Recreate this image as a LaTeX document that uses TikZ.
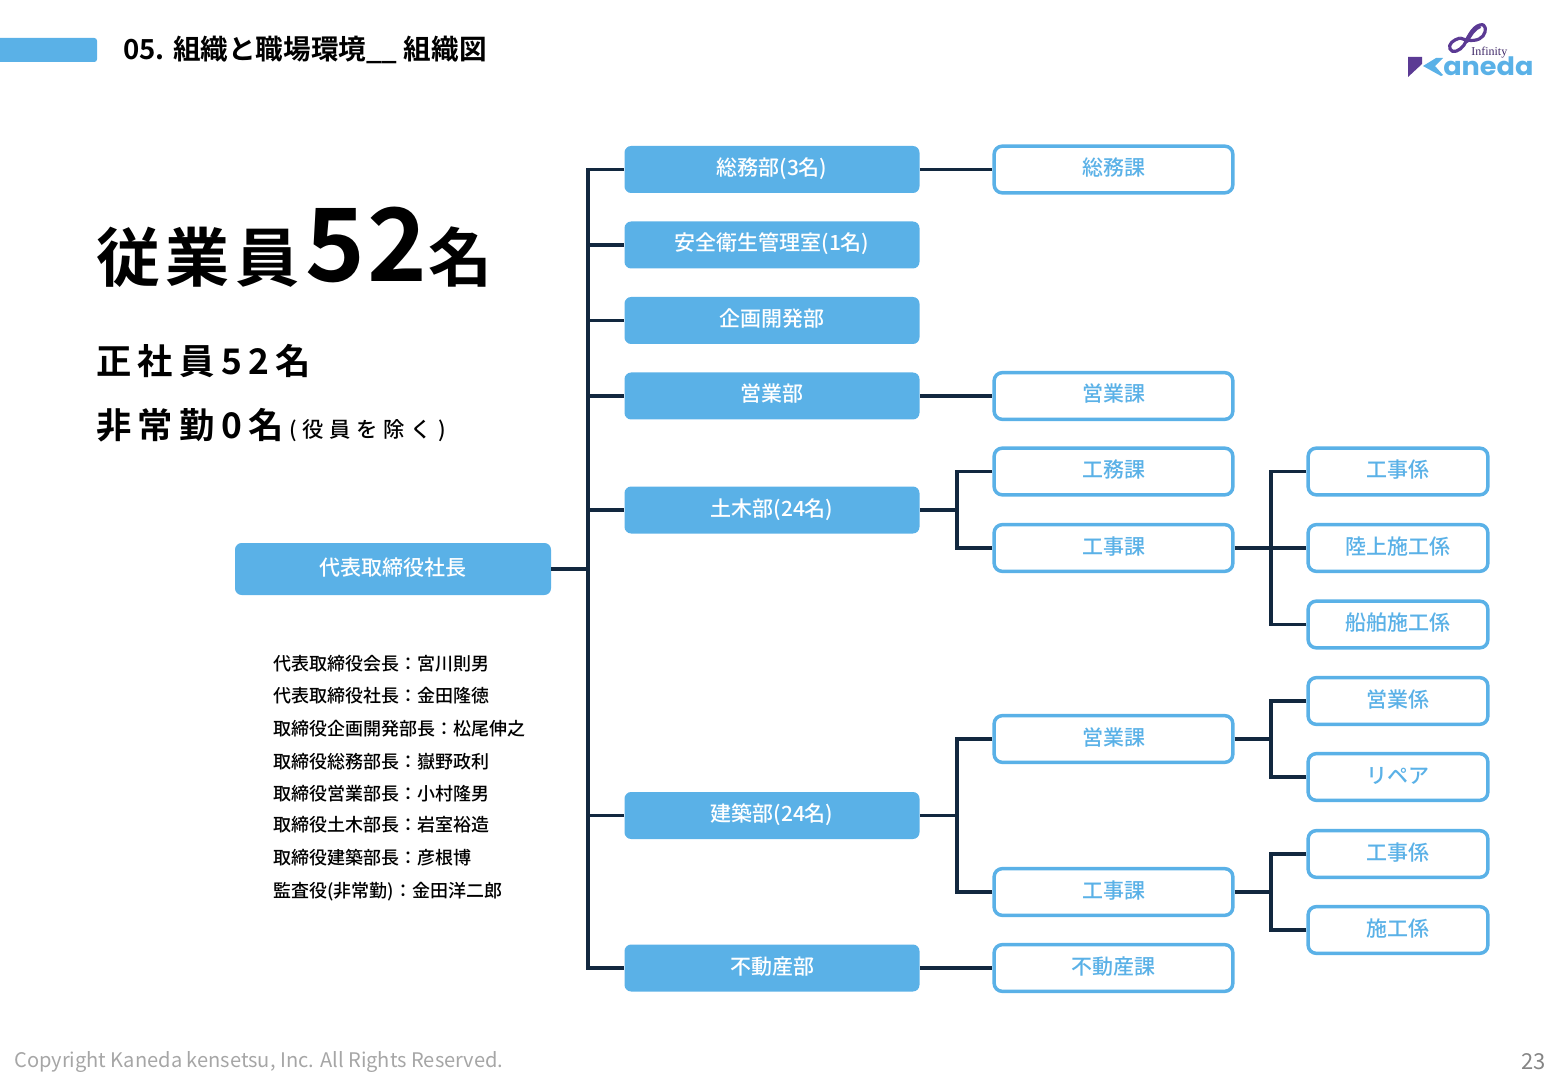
\documentclass[tikz,border=0pt]{standalone}
\usepackage{fontspec}
\setmainfont{Noto Sans CJK JP}[BoldFont={Noto Sans CJK JP Bold}]
\newfontfamily\medface{Noto Sans CJK JP Medium}
\newfontfamily\bigface{Noto Sans CJK JP Bold}[LetterSpace=9]
\newfontfamily\numface{Noto Sans CJK JP Bold}[LetterSpace=3]
\newfontfamily\wideface{Noto Sans CJK JP Bold}[LetterSpace=18]
\newfontfamily\noteface{Noto Sans CJK JP Medium}[LetterSpace=27]
\newfontfamily\logoface{Poppins}[BoldFont={Poppins Bold}]
\newfontfamily\serifface{Liberation Serif}
\definecolor{kanedablue}{HTML}{5AB1E7}
\definecolor{linenavy}{HTML}{12283F}
\definecolor{footgray}{HTML}{A6A6A6}
\definecolor{logopurple}{HTML}{5B3A94}
\newcommand{\pxfont}[1]{\fontsize{#1}{#1}\selectfont}

\begin{document}
\begin{tikzpicture}[x=0.75pt,y=-0.75pt,
      dept/.style={rectangle,fill=kanedablue,rounded corners=5pt,inner sep=0pt,
                  minimum width=221.25pt,minimum height=35.25pt,
                  text height=12.5pt,text depth=3.5pt,
                  text=white,font=\medface\pxfont{15.75}},
      sect/.style={rectangle,draw=kanedablue,fill=white,line width=2.6pt,rounded corners=6pt,inner sep=0pt,
                  minimum width=179pt,minimum height=35pt,
                  text height=12.5pt,text depth=3.5pt,
                  text=kanedablue,font=\medface\pxfont{15.75}},
      unit/.style={sect,minimum width=134.75pt},
      conn/.style={draw=linenavy,line width=2.5pt},
      member/.style={anchor=west,inner sep=0pt,font=\medface\pxfont{13.5}},
      head/.style={anchor=west,inner sep=0pt}]
    \useasboundingbox (0,0) rectangle (1560,1080);

    % header
    \fill[kanedablue,rounded corners=2pt] (-8,38) rectangle (97,62);
    \node[head,font=\pxfont{20.7}\bfseries] (title) at (123,50) {05. 組織と職場環境\_\_ 組織図};

    % logo
    \draw[logopurple,line width=2.4pt,line join=round]
      (1460,38) .. controls (1453,40) and (1448,44) .. (1450,49)
      .. controls (1452,54) and (1460,51) .. (1464,45)
      .. controls (1468,38) and (1472,27) .. (1480,25)
      .. controls (1486,23) and (1487,31) .. (1483,36)
      .. controls (1479,41) and (1470,42) .. (1460,38);
    \draw[logopurple,line width=3.2pt] (1466,42) .. controls (1470,35) and (1474,28) .. (1480,26);
    \fill[logopurple] (1408,57) -- (1422,57) -- (1422,64) -- (1408,77) -- cycle;
    \fill[kanedablue] (1423,66) -- (1436,58) -- (1443,58) -- (1435,66) -- (1443,75) -- (1441,76) -- cycle;
    \node[head,font=\serifface\pxfont{9},text=logopurple!70!black] (infinity) at (1471,53) {Infinity};
    \node[head,font=\logoface\bfseries\pxfont{19},text=kanedablue,xscale=1.07] (logotype) at (1443,66) {aneda};

    % head count
    \node[head,font=\bigface\pxfont{48}] (staff) at (96,257) {従業員};
    \node[head,font=\numface\pxfont{76}] (staffnum) at (305,245) {52};
    \node[head,font=\bigface\pxfont{48}] (staffunit) at (428,257) {名};
    \node[head,font=\wideface\pxfont{26.5}] (regular) at (96,361) {正社員52名};
    \node[head,font=\wideface\pxfont{26.5}] (parttime) at (96,425) {非常勤0名};
    \node[head,font=\noteface\pxfont{16}] (excl) at (289,431) {(役員を除く)};

    % president
    \node[dept,minimum width=237pt,minimum height=39pt] (pres) at (393,569) {代表取締役社長};

    \node[member] (m1) at (273,664) {代表取締役会長：宮川則男};
    \node[member] (m2) at (273,696) {代表取締役社長：金田隆徳};
    \node[member] (m3) at (273,729) {取締役企画開発部長：松尾伸之};
    \node[member] (m4) at (273,762) {取締役総務部長：嶽野政利};
    \node[member] (m5) at (273,794) {取締役営業部長：小村隆男};
    \node[member] (m6) at (273,825) {取締役土木部長：岩室裕造};
    \node[member] (m7) at (273,858) {取締役建築部長：彦根博};
    \node[member] (m8) at (273,892) {監査役(非常勤)：金田洋二郎};

    % departments
    \node[dept] (soumu) at (772,169.5) {総務部(3名)};
    \node[dept] (anzen) at (772,245) {安全衛生管理室(1名)};
    \node[dept] (kikaku) at (772,320.5) {企画開発部};
    \node[dept] (eigyo) at (772,396) {営業部};
    \node[dept] (doboku) at (772,510) {土木部(24名)};
    \node[dept] (kenchiku) at (772,815.5) {建築部(24名)};
    \node[dept] (fudosan) at (772,968) {不動産部};

    % sections
    \node[sect] (soumuka) at (1113.5,169.5) {総務課};
    \node[sect] (eigyoka) at (1113.5,396) {営業課};
    \node[sect] (koumuka) at (1113.5,471.5) {工務課};
    \node[sect] (kojika) at (1113.5,548) {工事課};
    \node[sect] (keigyoka) at (1113.5,739) {営業課};
    \node[sect] (kkojika) at (1113.5,892) {工事課};
    \node[sect] (fudosanka) at (1113.5,968) {不動産課};

    % units
    \node[unit] (kojigakari) at (1398,471.5) {工事係};
    \node[unit] (rikujo) at (1398,548) {陸上施工係};
    \node[unit] (senpaku) at (1398,624.5) {船舶施工係};
    \node[unit] (eigyogakari) at (1398,701) {営業係};
    \node[unit] (repair) at (1398,777) {リペア};
    \node[unit] (kkojigakari) at (1398,854) {工事係};
    \node[unit] (sekou) at (1398,930) {施工係};

    % trunk and branches
    \coordinate (bus) at (588,569);
    \coordinate (dobokubus) at (957,510);
    \coordinate (kojibus) at (1271,548);
    \coordinate (kenchikubus) at (957,815.5);
    \coordinate (keigyobus) at (1271,739);
    \coordinate (kkojibus) at (1271,892);

    \draw[conn] (pres.east) -- (bus);
    \draw[conn] (soumu.west) -| (bus);
    \draw[conn] (fudosan.west) -| (bus);
    \foreach \name in {anzen,kikaku,eigyo,doboku,kenchiku}
      \draw[conn] (\name.west) -- (\name.west -| bus);

    \draw[conn] (soumu) -- (soumuka);
    \draw[conn] (eigyo) -- (eigyoka);
    \draw[conn] (fudosan) -- (fudosanka);

    \draw[conn] (doboku.east) -- (dobokubus);
    \draw[conn] (koumuka.west) -| (dobokubus);
    \draw[conn] (kojika.west) -| (dobokubus);
    \draw[conn] (kojika.east) -- (rikujo.west);
    \draw[conn] (kojigakari.west) -| (kojibus);
    \draw[conn] (senpaku.west) -| (kojibus);

    \draw[conn] (kenchiku.east) -- (kenchikubus);
    \draw[conn] (keigyoka.west) -| (kenchikubus);
    \draw[conn] (kkojika.west) -| (kenchikubus);
    \draw[conn] (keigyoka.east) -- (keigyobus);
    \draw[conn] (eigyogakari.west) -| (keigyobus);
    \draw[conn] (repair.west) -| (keigyobus);
    \draw[conn] (kkojika.east) -- (kkojibus);
    \draw[conn] (kkojigakari.west) -| (kkojibus);
    \draw[conn] (sekou.west) -| (kkojibus);

    % footer
    \node[head,text=footgray,font=\pxfont{15.06}] (copyright) at (14,1062) {Copyright Kaneda kensetsu, Inc. All Rights Reserved.};
    \node[anchor=east,inner sep=0pt,text=footgray!80!black,font=\pxfont{16.5}] (pageno) at (1546,1062) {23};
  \end{tikzpicture}
\end{document}
